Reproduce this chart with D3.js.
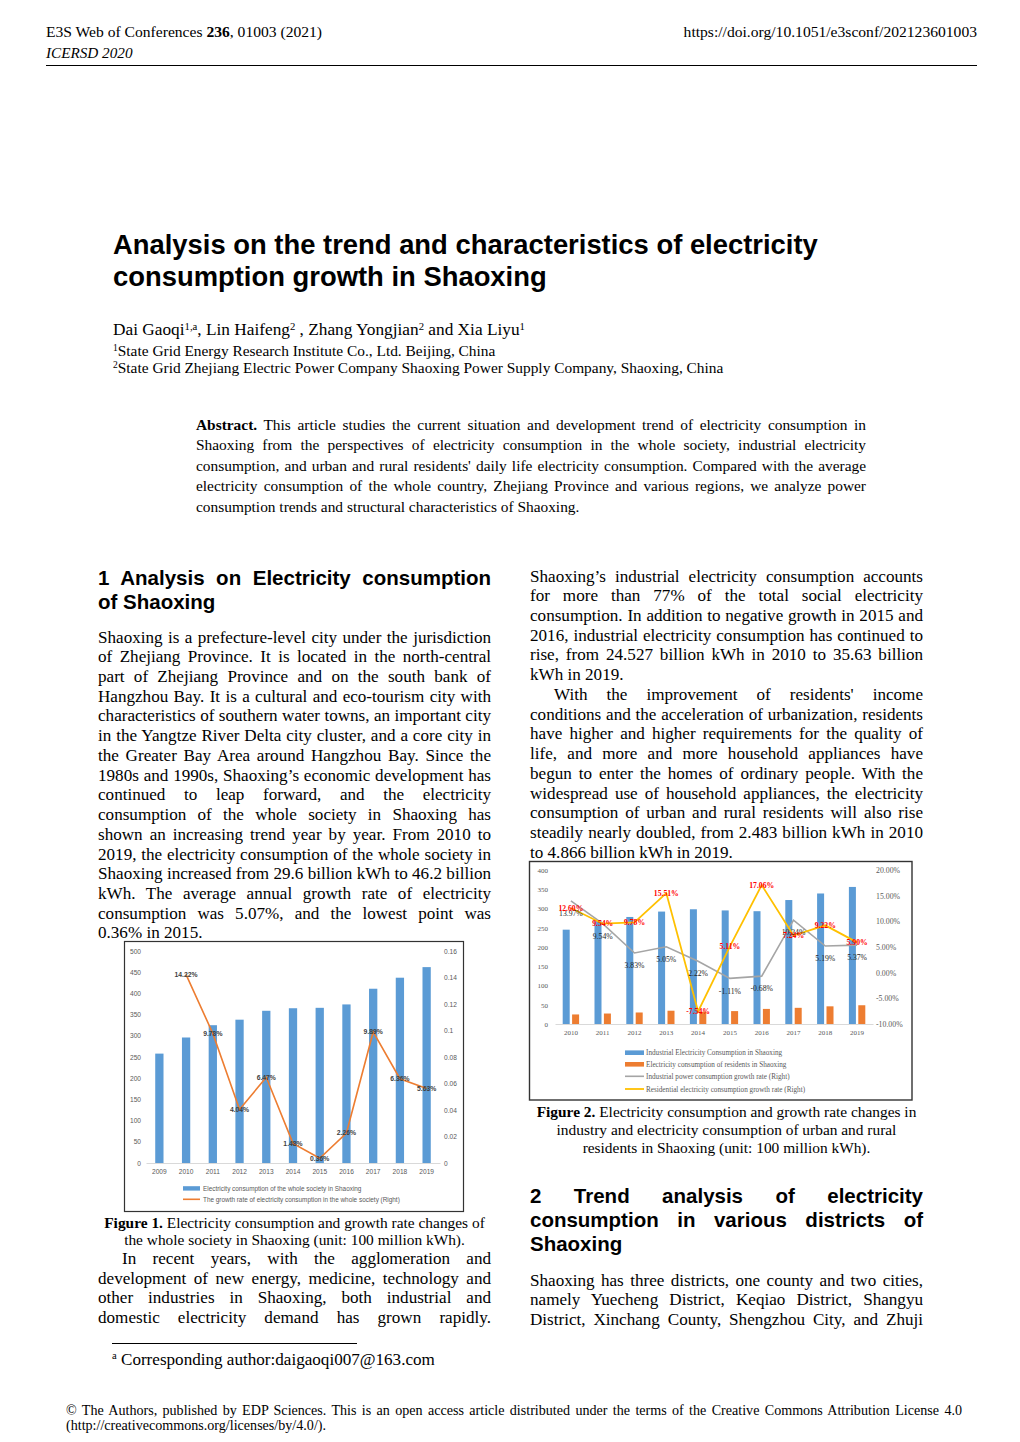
<!DOCTYPE html>
<html><head><meta charset="utf-8">
<script src="https://cdn.jsdelivr.net/npm/d3@7"></script>
<style>
html,body{margin:0;padding:0;background:#fff;}
body{width:1020px;height:1442px;position:relative;overflow:hidden;}
.t{position:absolute;white-space:nowrap;color:#000;}
sup{font-size:0.62em;vertical-align:baseline;position:relative;top:-0.5em;line-height:0;}
.rule{position:absolute;background:#000;height:1px;}
svg{position:absolute;left:0;top:0;}
</style></head><body>
<script>
// ---------------- chart data ----------------
const years1 = ["2009","2010","2011","2012","2013","2014","2015","2016","2017","2018","2019"];
const societyConsumption = [258, 296, 325, 338, 359, 365, 366, 374, 411, 437, 462];
const growthYears1 = ["2010","2011","2012","2013","2014","2015","2016","2017","2018","2019"];
const societyGrowth = [0.1422, 0.0978, 0.0404, 0.0647, 0.0148, 0.0036, 0.0226, 0.0989, 0.0636, 0.0563];
const leftTicks1 = [0,50,100,150,200,250,300,350,400,450,500];
const rightTicks1 = [0,0.02,0.04,0.06,0.08,0.1,0.12,0.14,0.16];
const legend1 = ["Electricity consumption of the whole society in Shaoxing",
                 "The growth rate of electricity consumption in the whole society (Right)"];

const years2 = ["2010","2011","2012","2013","2014","2015","2016","2017","2018","2019"];
const industrialConsumption = [245, 269, 278, 292, 298, 295, 293, 322, 339, 356];
const residentialConsumption = [24.8, 27.2, 29.9, 34.5, 31.9, 33.5, 39.2, 42.0, 45.9, 48.7];
const industrialGrowth = [13.97, 9.54, 3.83, 5.05, 2.22, -1.11, -0.68, 10.24, 5.19, 5.37];
const residentialGrowth = [12.60, 9.54, 9.78, 15.51, -7.54, 5.11, 17.06, 7.24, 9.22, 5.90];
const leftTicks2 = [0,50,100,150,200,250,300,350,400];
const rightTicks2 = [-10,-5,0,5,10,15,20];
const legend2 = ["Industrial Electricity Consumption in Shaoxing",
                 "Electricity consumption of residents in Shaoxing",
                 "Industrial power consumption growth rate (Right)",
                 "Residential electricity consumption growth rate (Right)"];

// ---------------- page text ----------------
const SERIF = "'Liberation Serif','Times New Roman',serif";
const SANS = "'Liberation Sans',Arial,sans-serif";
function T(x, y, html, o){
  o = o || {};
  const size = o.size || 17.1;
  const d = document.createElement('div');
  d.className = 't';
  d.style.fontFamily = o.sans ? SANS : SERIF;
  d.style.fontSize = size + 'px';
  if (o.bold) d.style.fontWeight = 'bold';
  if (o.italic) d.style.fontStyle = 'italic';
  const lh = Math.round(size * 1.25);
  d.style.lineHeight = lh + 'px';
  d.style.top = (y - lh/2) + 'px';
  d.innerHTML = html;
  document.body.appendChild(d);
  const w = d.getBoundingClientRect().width;
  let left = x;
  if (o.align === 'justify') {
    const n = (d.textContent.match(/ /g) || []).length;
    if (n) d.style.wordSpacing = ((o.w - w) / n) + 'px';
  } else if (o.align === 'center') left = x - w/2;
  else if (o.align === 'right') left = x - w;
  d.style.left = left + 'px';
}
function rule(x, y, w){
  const d = document.createElement('div');
  d.className = 'rule';
  d.style.left = x + 'px'; d.style.top = y + 'px'; d.style.width = w + 'px';
  document.body.appendChild(d);
}
// lines: "^" prefix = indent, "$" suffix = paragraph end (left aligned)
function block(lines, x, y0, step, w, o){
  o = o || {};
  lines.forEach((s, i) => {
    let ind = 0, just = true;
    if (s.startsWith('^')) { s = s.slice(1); ind = o.indent || 24; }
    if (s.endsWith('$')) { s = s.slice(0, -1); just = false; }
    T(x + ind, y0 + i*step, s, Object.assign({}, o, {align: just ? 'justify' : 'left', w: w - ind}));
  });
}

// header
T(46, 32, "E3S Web of Conferences <b>236</b>, 01003 (2021)", {size:15.6});
T(977, 32, "https://doi.org/10.1051/e3sconf/202123601003", {size:15.6, align:'right'});
T(46, 52, "ICERSD 2020", {size:15.2, italic:true});
rule(46, 65, 931);

// title
T(113, 245, "Analysis on the trend and characteristics of electricity", {sans:true, bold:true, size:27.4});
T(113, 277, "consumption growth in Shaoxing", {sans:true, bold:true, size:27.4});

// authors
T(113, 330, "Dai Gaoqi<sup>1,a</sup>, Lin Haifeng<sup>2</sup> , Zhang Yongjian<sup>2</sup> and Xia Liyu<sup>1</sup>", {size:17.3});
T(113, 350, "<sup>1</sup>State Grid Energy Research Institute Co., Ltd. Beijing, China", {size:15.4});
T(113, 367.5, "<sup>2</sup>State Grid Zhejiang Electric Power Company Shaoxing Power Supply Company, Shaoxing, China", {size:15.4});

// abstract
block([
  "<b>Abstract.</b> This article studies the current situation and development trend of electricity consumption in",
  "Shaoxing from the perspectives of electricity consumption in the whole society, industrial electricity",
  "consumption, and urban and rural residents' daily life electricity consumption. Compared with the average",
  "electricity consumption of the whole country, Zhejiang Province and various regions, we analyze power",
  "consumption trends and structural characteristics of Shaoxing.$"
], 196, 424, 20.5, 670, {size:15.4});

// section 1 heading
block([
  "1 Analysis on Electricity consumption",
  "of Shaoxing$"
], 98, 578, 23.5, 393, {sans:true, bold:true, size:20.5});

block([
  "Shaoxing is a prefecture-level city under the jurisdiction",
  "of Zhejiang Province. It is located in the north-central",
  "part of Zhejiang Province and on the south bank of",
  "Hangzhou Bay. It is a cultural and eco-tourism city with",
  "characteristics of southern water towns, an important city",
  "in the Yangtze River Delta city cluster, and a core city in",
  "the Greater Bay Area around Hangzhou Bay. Since the",
  "1980s and 1990s, Shaoxing’s economic development has",
  "continued to leap forward, and the electricity",
  "consumption of the whole society in Shaoxing has",
  "shown an increasing trend year by year. From 2010 to",
  "2019, the electricity consumption of the whole society in",
  "Shaoxing increased from 29.6 billion kWh to 46.2 billion",
  "kWh. The average annual growth rate of electricity",
  "consumption was 5.07%, and the lowest point was",
  "0.36% in 2015.$"
], 98, 637, 19.73, 393, {size:17.1});

// figure 1 caption
T(294.5, 1222, "<b>Figure 1.</b> Electricity consumption and growth rate changes of", {size:15.4, align:'center'});
T(294.5, 1239, "the whole society in Shaoxing (unit: 100 million kWh).", {size:15.4, align:'center'});

block([
  "^In recent years, with the agglomeration and",
  "development of new energy, medicine, technology and",
  "other industries in Shaoxing, both industrial and",
  "domestic electricity demand has grown rapidly."
], 98, 1258.5, 19.73, 393, {size:17.1});

rule(112, 1343, 245);
T(112, 1359, "<sup>a</sup> Corresponding author:daigaoqi007@163.com", {size:17.1});

T(66, 1410, "© The Authors, published by EDP Sciences. This is an open access article distributed under the terms of the Creative Commons Attribution License 4.0", {size:14.1, align:'justify', w:896});
T(66, 1425, "(http://creativecommons.org/licenses/by/4.0/).", {size:14.1});

// right column
block([
  "Shaoxing’s industrial electricity consumption accounts",
  "for more than 77% of the total social electricity",
  "consumption. In addition to negative growth in 2015 and",
  "2016, industrial electricity consumption has continued to",
  "rise, from 24.527 billion kWh in 2010 to 35.63 billion",
  "kWh in 2019.$",
  "^With the improvement of residents' income",
  "conditions and the acceleration of urbanization, residents",
  "have higher and higher requirements for the quality of",
  "life, and more and more household appliances have",
  "begun to enter the homes of ordinary people. With the",
  "widespread use of household appliances, the electricity",
  "consumption of urban and rural residents will also rise",
  "steadily nearly doubled, from 2.483 billion kWh in 2010",
  "to 4.866 billion kWh in 2019.$"
], 530, 576, 19.73, 393, {size:17.1});

T(726.5, 1111, "<b>Figure 2.</b> Electricity consumption and growth rate changes in", {size:15.4, align:'center'});
T(726.5, 1129, "industry and electricity consumption of urban and rural", {size:15.4, align:'center'});
T(726.5, 1147, "residents in Shaoxing (unit: 100 million kWh).", {size:15.4, align:'center'});

block([
  "2 Trend analysis of electricity",
  "consumption in various districts of",
  "Shaoxing$"
], 530, 1196, 24, 393, {sans:true, bold:true, size:20.5});

block([
  "Shaoxing has three districts, one county and two cities,",
  "namely Yuecheng District, Keqiao District, Shangyu",
  "District, Xinchang County, Shengzhou City, and Zhuji"
], 530, 1280, 19.73, 393, {size:17.1});

// ---------------- charts ----------------
const svg = d3.select('body').append('svg').attr('width', 1020).attr('height', 1442);

function styleAxis(g, family, size){
  g.attr('font-family', family).attr('font-size', size);
  g.selectAll('text').attr('fill', '#595959');
}

// ===== Figure 1 =====
{
  const f = svg.append('g');
  f.append('rect').attr('x', 124.5).attr('y', 941.5).attr('width', 339).attr('height', 270)
    .attr('fill', 'none').attr('stroke', '#333').attr('stroke-width', 1.2);
  const x = d3.scaleBand().domain(years1).range([146, 440]).paddingInner(0.69).paddingOuter(0.345);
  const y = d3.scaleLinear().domain([0, 500]).range([1163, 951]);
  const yr = d3.scaleLinear().domain([0, 0.16]).range([1163, 951]);
  const bw = x.bandwidth();

  f.append('g').attr('transform', 'translate(146,0)')
    .call(d3.axisLeft(y).tickValues(leftTicks1).tickSize(0).tickPadding(5))
    .call(g => g.select('.domain').remove())
    .call(g => styleAxis(g, SANS, 6.6));
  f.append('g').attr('transform', 'translate(440,0)')
    .call(d3.axisRight(yr).tickValues(rightTicks1).tickSize(0).tickPadding(4).tickFormat(d => String(+d.toFixed(2))))
    .call(g => g.select('.domain').remove())
    .call(g => styleAxis(g, SANS, 6.6));

  f.append('g').selectAll('rect').data(years1).join('rect')
    .attr('x', d => x(d)).attr('width', bw)
    .attr('y', (d, i) => y(societyConsumption[i]))
    .attr('height', (d, i) => y(0) - y(societyConsumption[i]))
    .attr('fill', '#5B9BD5');

  f.append('g').attr('transform', 'translate(0,1163)')
    .call(d3.axisBottom(x).tickSize(0).tickPadding(6.5))
    .call(g => g.select('.domain').attr('stroke', '#d9d9d9'))
    .call(g => styleAxis(g, SANS, 6.6));

  const pts = growthYears1.map((yy, i) => ({x: x(yy) + bw/2, y: yr(societyGrowth[i]), v: societyGrowth[i]}));
  f.append('path').datum(pts)
    .attr('d', d3.line().x(d => d.x).y(d => d.y))
    .attr('fill', 'none').attr('stroke', '#ED7D31').attr('stroke-width', 1.6);
  f.append('g').selectAll('text').data(pts).join('text')
    .attr('x', d => d.x).attr('y', d => d.y).attr('dy', '0.35em')
    .attr('text-anchor', 'middle').attr('font-family', SANS).attr('font-size', 6.8)
    .attr('font-weight', 'bold').attr('fill', '#404040')
    .text(d => (d.v * 100).toFixed(2) + '%');

  // legend
  const lg = f.append('g').attr('font-family', SANS).attr('font-size', 6.4).attr('fill', '#595959');
  lg.append('rect').attr('x', 183).attr('y', 1186.2).attr('width', 17).attr('height', 4.4).attr('fill', '#5B9BD5');
  lg.append('text').attr('x', 203).attr('y', 1188.4).attr('dy', '0.35em').text(legend1[0]);
  lg.append('line').attr('x1', 183).attr('x2', 200).attr('y1', 1199.3).attr('y2', 1199.3)
    .attr('stroke', '#ED7D31').attr('stroke-width', 1.6);
  lg.append('text').attr('x', 203).attr('y', 1199.3).attr('dy', '0.35em').text(legend1[1]);
}

// ===== Figure 2 =====
{
  const f = svg.append('g');
  f.append('rect').attr('x', 529.5).attr('y', 861.5).attr('width', 382.5).attr('height', 238.5)
    .attr('fill', 'none').attr('stroke', '#333').attr('stroke-width', 1.4);
  const x = d3.scaleBand().domain(years2).range([555, 873]).paddingInner(0.484).paddingOuter(0.242);
  const xs = d3.scaleBand().domain(['ind', 'res']).range([0, x.bandwidth()]).paddingInner(0.255);
  const y = d3.scaleLinear().domain([0, 400]).range([1024, 870]);
  const yr = d3.scaleLinear().domain([-10, 20]).range([1024, 870]);

  f.append('g').attr('transform', 'translate(555,0)')
    .call(d3.axisLeft(y).tickValues(leftTicks2).tickSize(0).tickPadding(7))
    .call(g => g.select('.domain').remove())
    .call(g => styleAxis(g, SERIF, 7));
  f.append('g').attr('transform', 'translate(873,0)')
    .call(d3.axisRight(yr).tickValues(rightTicks2).tickSize(0).tickPadding(3).tickFormat(d => d.toFixed(2) + '%'))
    .call(g => g.select('.domain').remove())
    .call(g => styleAxis(g, SERIF, 7.8));

  const grp = f.append('g').selectAll('g').data(years2).join('g')
    .attr('transform', d => `translate(${x(d)},0)`);
  grp.append('rect').attr('x', xs('ind')).attr('width', xs.bandwidth())
    .attr('y', (d, i) => y(industrialConsumption[i]))
    .attr('height', (d, i) => y(0) - y(industrialConsumption[i]))
    .attr('fill', '#5B9BD5');
  grp.append('rect').attr('x', xs('res')).attr('width', xs.bandwidth())
    .attr('y', (d, i) => y(residentialConsumption[i]))
    .attr('height', (d, i) => y(0) - y(residentialConsumption[i]))
    .attr('fill', '#ED7D31');

  f.append('g').attr('transform', 'translate(0,1024)')
    .call(d3.axisBottom(x).tickSize(0).tickPadding(6.5))
    .call(g => g.select('.domain').attr('stroke', '#d9d9d9'))
    .call(g => styleAxis(g, SERIF, 7));

  const cx = d => x(d) + x.bandwidth()/2;
  const ptsI = years2.map((yy, i) => ({x: cx(yy), y: yr(industrialGrowth[i]), v: industrialGrowth[i]}));
  const ptsR = years2.map((yy, i) => ({x: cx(yy), y: yr(residentialGrowth[i]), v: residentialGrowth[i]}));
  const line = d3.line().x(d => d.x).y(d => d.y);
  f.append('path').datum(ptsI).attr('d', line).attr('fill', 'none').attr('stroke', '#A5A5A5').attr('stroke-width', 1.6);
  f.append('path').datum(ptsR).attr('d', line).attr('fill', 'none').attr('stroke', '#FFC000').attr('stroke-width', 1.8);

  f.append('g').selectAll('text').data(ptsI).join('text')
    .attr('x', d => d.x).attr('y', d => d.y + 12.5).attr('dy', '0.35em')
    .attr('text-anchor', 'middle').attr('font-family', SERIF).attr('font-size', 7.7)
    .attr('fill', '#262626')
    .text(d => d.v.toFixed(2) + '%');
  f.append('g').selectAll('text').data(ptsR).join('text')
    .attr('x', d => d.x).attr('y', d => d.y).attr('dy', '0.35em')
    .attr('text-anchor', 'middle').attr('font-family', SERIF).attr('font-size', 7.7)
    .attr('font-weight', 'bold').attr('fill', '#FF0000')
    .text(d => d.v.toFixed(2) + '%');

  // legend
  const lg = f.append('g').attr('font-family', SERIF).attr('font-size', 7.2).attr('fill', '#595959');
  const rowsY = [1052.7, 1064.3, 1076.3, 1089];
  lg.append('rect').attr('x', 625).attr('y', rowsY[0] - 2.3).attr('width', 19).attr('height', 4.6).attr('fill', '#5B9BD5');
  lg.append('rect').attr('x', 625).attr('y', rowsY[1] - 2.3).attr('width', 19).attr('height', 4.6).attr('fill', '#ED7D31');
  lg.append('line').attr('x1', 625).attr('x2', 644).attr('y1', rowsY[2]).attr('y2', rowsY[2]).attr('stroke', '#A5A5A5').attr('stroke-width', 1.6);
  lg.append('line').attr('x1', 625).attr('x2', 644).attr('y1', rowsY[3]).attr('y2', rowsY[3]).attr('stroke', '#FFC000').attr('stroke-width', 1.8);
  lg.selectAll('text').data(legend2).join('text')
    .attr('x', 646).attr('y', (d, i) => rowsY[i]).attr('dy', '0.35em').text(d => d);
}
</script>
</body></html>
